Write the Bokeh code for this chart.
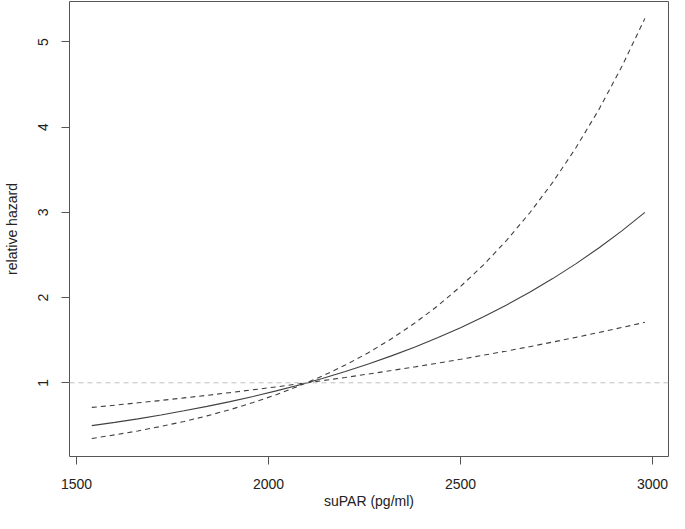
from bokeh.plotting import figure
from bokeh.models import Span, Range1d, FixedTicker
from bokeh.embed import file_html
from bokeh.resources import INLINE

# Data
supar = [1540, 1600, 1660, 1720, 1780, 1840, 1900, 1960, 2020, 2080, 2140, 2200,
         2260, 2320, 2380, 2440, 2500, 2560, 2620, 2680, 2740, 2800, 2860, 2920, 2980]
hazard = [0.497, 0.536, 0.577, 0.622, 0.671, 0.723, 0.779, 0.840, 0.905, 0.975, 1.051, 1.133,
          1.221, 1.316, 1.418, 1.529, 1.647, 1.776, 1.914, 2.062, 2.223, 2.396, 2.582, 2.783, 3.000]
upper_ci = [0.347, 0.389, 0.435, 0.488, 0.546, 0.612, 0.685, 0.768, 0.860, 0.963, 1.079, 1.208,
            1.353, 1.516, 1.698, 1.901, 2.130, 2.385, 2.672, 2.993, 3.352, 3.755, 4.205, 4.711, 5.277]
lower_ci = [0.711, 0.737, 0.765, 0.793, 0.823, 0.853, 0.885, 0.918, 0.952, 0.988, 1.025, 1.063,
            1.103, 1.144, 1.186, 1.230, 1.276, 1.324, 1.373, 1.424, 1.478, 1.533, 1.590, 1.649, 1.710]
x_ticks = [1500, 2000, 2500, 3000]
y_ticks = [1, 2, 3, 4, 5]
ref_level = 1

FONT = "Liberation Sans"
TXT = "#222222"
LINE = "#404040"

p = figure(width=669, height=513, output_backend="svg", toolbar_location=None,
           x_range=Range1d(1481.9, 3041.5), y_range=Range1d(0.135, 5.475),
           min_border_left=66, min_border_right=1, min_border_top=1, min_border_bottom=57)

p.xgrid.visible = False
p.ygrid.visible = False
p.outline_line_color = "#555555"
p.outline_line_width = 1
p.background_fill_color = "white"
p.border_fill_color = "white"

p.add_layout(Span(location=ref_level, dimension="width", line_color="#c0c0c0",
                  line_dash="5 4", line_width=1))

p.line(supar, hazard, line_color=LINE, line_width=1.1)
p.line(supar, upper_ci, line_color=LINE, line_width=1.1, line_dash="5 4")
p.line(supar, lower_ci, line_color=LINE, line_width=1.1, line_dash="5 4")

for ax in (p.xaxis[0], p.yaxis[0]):
    ax.axis_line_color = None
    ax.major_tick_line_color = "#555555"
    ax.major_tick_out = 8
    ax.major_tick_in = 0
    ax.minor_tick_line_color = None
    ax.major_label_text_font = FONT
    ax.major_label_text_font_size = "14px"
    ax.major_label_text_color = TXT
    ax.axis_label_text_font = FONT
    ax.axis_label_text_font_size = "14px"
    ax.axis_label_text_font_style = "normal"
    ax.axis_label_text_color = TXT

p.xaxis.ticker = FixedTicker(ticks=x_ticks)
p.yaxis.ticker = FixedTicker(ticks=y_ticks)
p.xaxis.axis_label = "suPAR (pg/ml)"
p.yaxis.axis_label = "relative hazard"
p.xaxis.major_label_standoff = 14
p.xaxis.axis_label_standoff = 1
p.yaxis.major_label_standoff = 13
p.yaxis.axis_label_standoff = 16
p.yaxis.major_label_orientation = "vertical"

open("out.html", "w").write(file_html(p, INLINE))
